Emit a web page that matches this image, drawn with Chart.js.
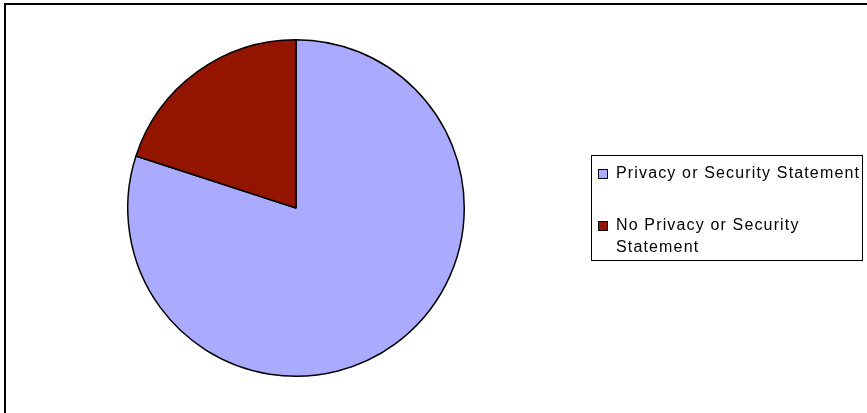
<!DOCTYPE html>
<html>
<head>
<meta charset="utf-8">
<script src="https://cdn.jsdelivr.net/npm/chart.js@4/dist/chart.umd.min.js"></script>
<style>
  body { margin: 0; background: #fff; width: 867px; height: 413px; overflow: hidden; position: relative; }
  #frame { position: absolute; left: 4px; top: 3px; width: 900px; height: 500px; border-left: 2px solid #000; border-top: 2px solid #000; }
  #pieBox { position: absolute; left: 0; top: 0; width: 592px; height: 416px; }
  #legend { position: absolute; left: 591px; top: 155px; width: 272px; height: 106px; border: 1px solid #000; box-sizing: border-box; background: #fff;
    font-family: "Liberation Sans", Arial, sans-serif; font-size: 16px; letter-spacing: 1.15px; color: #000; }
  .item { position: absolute; left: 0; width: 270px; line-height: 22px; }
  .swatch { position: absolute; left: 6px; width: 8px; height: 8px; border: 1px solid #000; }
  .text { position: absolute; left: 24px; width: 252px; }
</style>
</head>
<body>
<div id="frame"></div>
<div id="pieBox"><canvas id="pie"></canvas></div>
<div id="legend"></div>
<script>
const labels = ["Privacy or Security Statement", "No Privacy or Security Statement"];
const values = [80, 20];
const colors = ["#aaaaff", "#931500"];

const chart = new Chart(document.getElementById("pie"), {
  type: "pie",
  data: {
    labels: labels,
    datasets: [
      {
        data: values,
        backgroundColor: colors,
        borderColor: "#000",
        borderWidth: 1.5,
      },
    ],
  },
  options: {
    responsive: true,
    maintainAspectRatio: false,
    animation: false,
    layout: { padding: { top: 39, bottom: 39 } },
    plugins: {
      legend: { display: false },
      tooltip: { enabled: false },
    },
  },
});

// legend on the right, text wraps like the original
const legend = document.getElementById("legend");
const tops = [2, 54];
labels.forEach((label, i) => {
  const item = document.createElement("div");
  item.className = "item";
  item.style.top = tops[i] + "px";
  item.innerHTML =
    '<span class="swatch" style="top:11px;background:' + colors[i] + '"></span>' +
    '<span class="text" style="top:4px">' + label + "</span>";
  legend.appendChild(item);
});
</script>
</body>
</html>
